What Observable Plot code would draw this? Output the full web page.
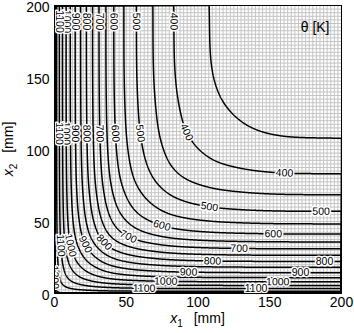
<!DOCTYPE html>
<html><head><meta charset="utf-8">
<script src="https://cdn.jsdelivr.net/npm/d3@7"></script>
<script src="https://cdn.jsdelivr.net/npm/@observablehq/plot@0.6"></script>
<style>body{margin:0;background:#fff} svg{display:block}</style>
</head><body><div id="chart"></div>
<script>
// contour levels (K)
const levels = [350,400,450,500,550,600,650,700,750,800,850,900,950,1000,1050,1100,1150,1200];
const labeledLevels = [400,500,600,700,800,900,1000,1100,1200];
// temperature profile far from the corner, read at x1 = 200 mm (depth in mm, temperature in K)
const profileDepth = [0, 1.5, 3.4, 5.6, 8.1, 11.0, 14.4, 18.2, 22.2, 26.5, 31.0, 35.8, 41.3, 48.3, 57.0, 68.5, 83.0, 107.5, 129, 160, 200];
const profileTemp  = [1196, 1150, 1100, 1050, 1000, 950, 900, 850, 800, 750, 700, 650, 600, 550, 500, 450, 400, 350, 325, 303, 296];
const xTicks = [0, 50, 100, 150, 200];
const yTicks = [0, 50, 100, 150, 200];
const ambient = 293, surface = 1215, exponent = 1.5;

function monotone(xs, ys) {
  const n = xs.length, d = [], m = new Array(n);
  for (let i = 0; i < n - 1; i++) d.push((ys[i+1] - ys[i]) / (xs[i+1] - xs[i]));
  m[0] = d[0]; m[n-1] = d[n-2];
  for (let i = 1; i < n - 1; i++) m[i] = d[i-1] * d[i] <= 0 ? 0 : (d[i-1] + d[i]) / 2;
  for (let i = 0; i < n - 1; i++) {
    if (d[i] === 0) { m[i] = m[i+1] = 0; continue; }
    const a = m[i] / d[i], b = m[i+1] / d[i], s = a*a + b*b;
    if (s > 9) { const t = 3 / Math.sqrt(s); m[i] = t*a*d[i]; m[i+1] = t*b*d[i]; }
  }
  return x => {
    if (x <= xs[0]) return ys[0];
    if (x >= xs[n-1]) return ys[n-1];
    const i = d3.bisectRight(xs, x) - 1, h = xs[i+1] - xs[i], t = (x - xs[i]) / h, t2 = t*t, t3 = t2*t;
    return (2*t3 - 3*t2 + 1)*ys[i] + (t3 - 2*t2 + t)*h*m[i] + (-2*t3 + 3*t2)*ys[i+1] + (t3 - t2)*h*m[i+1];
  };
}
const prof = monotone(profileDepth, profileTemp);
const span = surface - ambient;
const g = d => -Math.log(1 - (prof(d) - ambient) / span);
function theta(x, y) {
  const s = Math.pow(Math.pow(g(x), exponent) + Math.pow(g(y), exponent), 1 / exponent);
  return ambient + span * (1 - Math.exp(-s));
}

// layout
const W = 354, H = 333, ML = 54, MR = 13, MT = 5, MB = 40;
const kx = (W - ML - MR) / 200, ky = (H - MT - MB) / 200;

// label placement along contours (clabel-like)
const N = 401, step = 0.5;
const grid = new Float64Array(N * N);
for (let j = 0; j < N; j++) for (let i = 0; i < N; i++) grid[j*N + i] = theta(i*step, j*step);
const cont = d3.contours().size([N, N]).thresholds(labeledLevels)(grid);
const labels = [];
const S0 = 16, S = 112;
for (const c of cont) {
  for (const poly of c.coordinates) for (const ring of poly) {
    const inside = p => p[0] > 0.3 && p[0] < N - 0.3 && p[1] > 0.3 && p[1] < N - 0.3;
    let start = ring.findIndex(p => !inside(p));
    if (start < 0) start = 0;
    const pts = ring.slice(start).concat(ring.slice(0, start));
    const runs = []; let cur = [];
    for (const p of pts) {
      if (inside(p)) cur.push(p); else { if (cur.length > 1) runs.push(cur); cur = []; }
    }
    if (cur.length > 1) runs.push(cur);
    for (let run of runs) {
      let P = run.map(p => { const mx = (p[0] - 0.5) * step, my = (p[1] - 0.5) * step; return [ML + mx*kx, MT + (200 - my)*ky, mx, my]; });
      if (P[0][1] > P[P.length-1][1]) P.reverse();
      const cum = [0];
      for (let k = 1; k < P.length; k++) cum.push(cum[k-1] + Math.hypot(P[k][0]-P[k-1][0], P[k][1]-P[k-1][1]));
      const L = cum[cum.length-1];
      const at = s => {
        s = Math.max(0, Math.min(L, s));
        let k = d3.bisectRight(cum, s) - 1; k = Math.min(k, P.length - 2);
        const t = (s - cum[k]) / ((cum[k+1] - cum[k]) || 1);
        return P[k].map((v, q) => v + t*(P[k+1][q] - v));
      };
      for (let s = S0; s < L - 10; s += S) {
        const p = at(s), a = at(s - 4), b = at(s + 4);
        let ang = Math.atan2(b[1] - a[1], b[0] - a[0]) * 180 / Math.PI;
        if (ang <= -90) ang += 180; else if (ang > 90) ang -= 180;
        if (ang < -88) ang += 180;
        labels.push({x: p[2], y: p[3], angle: ang, text: String(c.value)});
      }
    }
  }
}

const font = "'Liberation Sans', Arial, Helvetica, sans-serif";
const chart = Plot.plot({
  width: W, height: H, marginLeft: ML, marginRight: MR, marginTop: MT, marginBottom: MB,
  style: {fontFamily: font, background: "white", color: "black"},
  x: {domain: [0, 200], label: null, axis: null},
  y: {domain: [0, 200], label: null, axis: null},
  marks: [
    Plot.gridX(d3.range(0, 200.001, 2.5), {stroke: "#c4c4c4", strokeOpacity: 1, strokeWidth: 1}),
    Plot.gridY(d3.range(0, 200.001, 2.5), {stroke: "#c4c4c4", strokeOpacity: 1, strokeWidth: 1}),
    Plot.contour({x1: 0, y1: 0, x2: 200, y2: 200, value: theta, thresholds: levels, pixelSize: 0.5,
      stroke: "black", strokeWidth: 1.5, fill: "none", clip: true}),
    Plot.text(labels, {x: "x", y: "y", text: "text", rotate: "angle", fontSize: 10.5, fill: "black",
      stroke: "white", strokeWidth: 3, paintOrder: "stroke", clip: true}),
    Plot.frame({stroke: "black", strokeWidth: 1}),
    Plot.axisX(xTicks, {tickSize: 0, tickPadding: 4, fontSize: 14, label: null}),
    Plot.axisY(yTicks, {tickSize: 0, tickPadding: 5, fontSize: 14, dy: 2, label: null}),
    Plot.text(["θ [K]"], {frameAnchor: "top-right", dx: -12, dy: 17, textAnchor: "end", fontSize: 14, fill: "black"})
  ]
});
document.getElementById("chart").appendChild(chart);

const svg = d3.select(chart);
// white box behind the "θ [K]" legend text
const legendText = svg.selectAll("text").filter(function() { return this.textContent === "θ [K]"; }).node();
if (legendText) {
  const bb = legendText.getBBox();
  const grp = legendText.closest("g");
  d3.select(grp).insert("rect", ":first-child")
    .attr("x", bb.x - 7).attr("y", bb.y - 4).attr("width", bb.width + 13).attr("height", bb.height + 5)
    .attr("fill", "white");
}
// axis titles with italic x and subscripts
const xl = svg.append("text").attr("x", ML + (W - ML - MR) / 2).attr("y", H - 10)
  .attr("text-anchor", "middle").attr("font-size", 14).attr("font-family", font).attr("fill", "black");
xl.append("tspan").attr("font-style", "italic").text("x");
xl.append("tspan").attr("font-size", 10).attr("dy", 4).text("1");
xl.append("tspan").attr("dy", -4).text("\u2002 [mm]");
const yl = svg.append("text").attr("transform", `translate(13,${MT + (H - MT - MB) / 2}) rotate(-90)`)
  .attr("text-anchor", "middle").attr("font-size", 14).attr("font-family", font).attr("fill", "black");
yl.append("tspan").attr("font-style", "italic").text("x");
yl.append("tspan").attr("font-size", 10).attr("dy", 4).text("2");
yl.append("tspan").attr("dy", -4).text("\u2002 [mm]");
</script></body></html>
